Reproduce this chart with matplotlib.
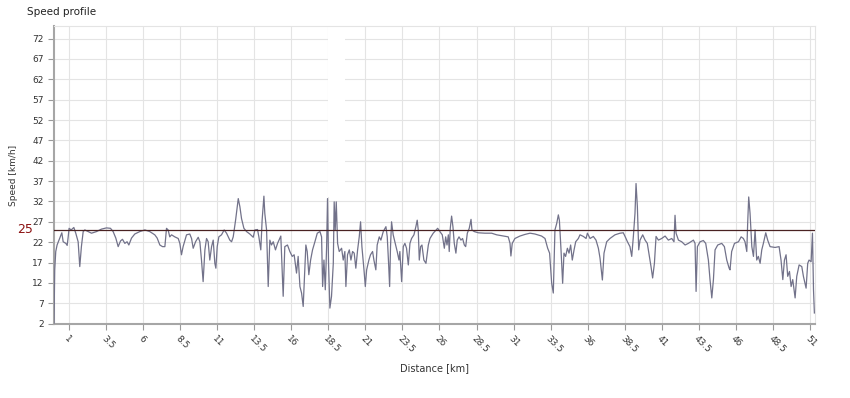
import numpy as np
import matplotlib
matplotlib.use("Agg")
import matplotlib.pyplot as plt
from matplotlib.ticker import FormatStrFormatter
from matplotlib.patches import Rectangle

# speed profile (distance km, speed km/h)
dist_km = [0.0, 0.05, 0.12, 0.21, 0.39, 0.53, 0.62, 0.80, 0.89, 0.95, 1.02, 1.16, 1.34, 1.47,
           1.63, 1.74, 1.85, 1.97, 2.08, 2.30, 2.53, 2.87, 3.20, 3.54, 3.81, 3.99, 4.17, 4.33,
           4.49, 4.62, 4.78, 4.93, 5.05, 5.23, 5.45, 5.79, 6.13, 6.46, 6.80, 6.96, 7.14, 7.32,
           7.48, 7.59, 7.70, 7.81, 7.93, 8.15,
           8.38, 8.49, 8.60, 8.71, 8.94, 9.16, 9.28, 9.39, 9.55, 9.73, 9.84, 9.95, 10.06, 10.18,
           10.29, 10.40, 10.51, 10.63, 10.74, 10.85, 10.92, 11.01, 11.12, 11.30, 11.48, 11.64,
           11.86, 11.98, 12.09, 12.25, 12.43, 12.54, 12.65, 12.81, 12.99, 13.21, 13.44, 13.55,
           13.73, 13.82, 13.95, 14.04, 14.16, 14.22, 14.34, 14.45, 14.56, 14.67, 14.79, 14.94,
           15.08, 15.30, 15.46, 15.57, 15.75, 15.91, 16.07, 16.20, 16.36, 16.47,
           16.59, 16.70, 16.81, 16.92, 16.99, 17.08, 17.19, 17.31, 17.44, 17.60, 17.76, 17.94,
           18.05, 18.12, 18.21, 18.30, 18.39, 18.45, 18.52, 18.61, 18.72, 18.84, 18.90, 18.97,
           19.04, 19.13, 19.24, 19.40, 19.51, 19.62, 19.69, 19.80, 19.92, 20.03, 20.14, 20.25,
           20.36, 20.48, 20.59, 20.68, 20.77, 20.91, 21.00, 21.09, 21.24, 21.35, 21.49, 21.58,
           21.71, 21.80, 21.94, 22.05, 22.21, 22.39, 22.48, 22.57, 22.64, 22.70, 22.77, 22.88,
           23.02, 23.15, 23.27, 23.33, 23.45, 23.56, 23.67, 23.78, 23.90, 24.01, 24.12, 24.28,
           24.41, 24.50, 24.57, 24.64, 24.73, 24.82, 24.95, 25.09,
           25.25, 25.36, 25.58, 25.88, 26.03, 26.19, 26.33, 26.42, 26.51, 26.60, 26.66, 26.73,
           26.82, 26.91, 27.00, 27.11, 27.20, 27.32, 27.45, 27.56, 27.68, 27.77, 27.88, 28.01,
           28.13, 28.19, 28.35, 28.62, 29.07, 29.52, 29.86, 30.31, 30.64, 30.76, 30.82, 30.91,
           31.09, 31.43, 31.77, 32.11, 32.44, 32.89, 33.12, 33.30, 33.43,
           33.57, 33.68, 33.79, 33.91, 34.02, 34.09, 34.20, 34.31, 34.40, 34.51, 34.63, 34.74,
           34.85, 34.96, 35.08, 35.19, 35.37, 35.48, 35.71, 35.89, 35.98, 36.16, 36.38, 36.56,
           36.72, 36.83, 36.99, 37.10, 37.28, 37.50, 37.84, 38.18, 38.40, 38.52, 38.68, 38.85,
           38.97, 39.08, 39.19, 39.26, 39.35, 39.44, 39.53, 39.71, 39.87, 40.02, 40.16, 40.27,
           40.38, 40.50, 40.61, 40.77, 40.99, 41.22, 41.44, 41.67, 41.82,
           41.89, 41.96, 42.12, 42.34, 42.57, 42.79, 43.13, 43.24, 43.31, 43.40, 43.58, 43.80,
           43.96, 44.14, 44.25, 44.37, 44.48, 44.59, 44.77, 45.04, 45.22, 45.38, 45.54, 45.60,
           45.71, 45.90, 46.17, 46.35, 46.50, 46.61, 46.73, 46.79, 46.86, 46.95, 47.07, 47.18,
           47.29, 47.40, 47.51, 47.63, 47.74, 47.85, 48.01, 48.14, 48.30, 48.64, 48.91, 49.04,
           49.16, 49.27, 49.38, 49.49, 49.61, 49.72, 49.83, 49.99, 50.10, 50.26, 50.44, 50.55,
           50.73, 50.84, 50.93, 51.07, 51.16, 51.23, 51.29]

speed_kmh = [2.1, 15.2, 19.7, 21.3, 23.0, 24.3, 22.1, 21.7, 21.2, 23.0, 25.4, 25.0, 25.6, 24.2,
             22.1, 16.0, 20.9, 24.6, 25.0, 24.6, 24.2, 24.6, 25.2, 25.5, 25.4, 24.6, 23.0, 20.9,
             22.3, 22.7, 21.7, 22.1, 21.3, 23.0, 24.0, 24.6, 25.0, 24.6, 23.8, 23.0, 21.3, 20.9,
             20.9, 25.4, 25.0, 23.3, 23.8, 23.3,
             22.9, 21.7, 18.9, 20.9, 23.8, 24.0, 22.9, 20.5, 22.1, 23.2, 22.1, 17.6, 12.3, 20.1,
             22.9, 22.1, 17.6, 20.9, 22.5, 16.8, 15.6, 20.9, 23.3, 23.8, 25.0, 24.2,
             22.5, 22.1, 23.3, 27.4, 32.7, 30.7, 27.8, 25.4, 24.6, 24.0, 23.2, 25.0,
             25.1, 23.3, 20.1, 27.4, 33.3, 29.1, 25.0, 11.1, 22.5, 21.3, 22.1, 20.1,
             21.7, 23.5, 8.7, 20.9, 21.3, 19.7, 18.5, 18.9, 14.4, 18.5,
             11.1, 9.5, 6.2, 15.2, 21.3, 19.7, 14.0, 17.6, 20.1, 22.1, 24.2, 24.6,
             23.3, 11.1, 17.6, 10.3, 20.9, 32.7, 16.8, 5.8, 8.7, 16.8, 31.9, 25.0,
             31.9, 21.7, 19.7, 20.5, 17.6, 19.7, 11.1, 18.9, 20.1, 17.6, 19.7, 19.3,
             15.6, 20.1, 23.3, 27.0, 20.9, 15.2, 11.1, 15.2, 17.6, 18.9, 19.7, 17.6,
             15.2, 21.3, 23.3, 22.5, 24.6, 25.8, 23.3, 16.8, 11.1, 20.9, 27.0, 23.8,
             21.7, 19.7, 17.6, 19.7, 12.3, 20.9, 21.7, 20.5, 16.4, 21.7, 22.9, 23.8,
             25.8, 27.4, 25.0, 17.6, 20.9, 21.3, 17.6, 16.8,
             21.3, 22.9, 24.2, 25.4, 24.6, 23.8, 20.5, 23.3, 21.3, 23.8, 19.7, 25.4,
             28.4, 25.8, 21.7, 19.3, 22.5, 23.3, 22.5, 22.9, 21.3, 20.9, 24.2, 25.4,
             27.6, 25.0, 24.6, 24.3, 24.2, 24.2, 23.8, 23.5, 23.3, 21.7, 18.6, 21.7,
             22.9, 23.5, 23.9, 24.2, 24.0, 23.5, 22.9, 20.5, 19.3,
             11.9, 9.5, 25.0, 26.6, 28.7, 27.4, 20.1, 11.9, 19.3, 18.5, 20.5, 19.3,
             21.3, 17.6, 20.1, 22.1, 22.9, 23.8, 23.4, 22.9, 24.2, 22.9, 23.4, 22.5,
             20.5, 18.1, 12.7, 19.3, 22.1, 22.9, 23.8, 24.2, 24.3, 23.4, 22.1, 20.9,
             18.5, 23.4, 29.1, 36.4, 30.7, 20.1, 22.5, 23.8, 22.5, 21.7, 18.5, 16.0,
             13.2, 16.8, 23.4, 22.5, 22.9, 23.5, 22.5, 22.9, 22.1,
             28.6, 24.2, 22.5, 22.1, 21.3, 21.7, 22.5, 21.7, 9.9, 20.9, 22.1, 22.4,
             21.7, 17.6, 12.8, 8.3, 12.8, 20.1, 21.3, 21.7, 20.9, 17.6, 15.6, 15.2,
             19.7, 21.7, 22.1, 23.3, 22.9, 22.1, 19.7, 26.6, 33.1, 29.1, 20.9, 18.5,
             25.0, 17.6, 18.5, 16.8, 20.1, 21.7, 24.3, 22.5, 20.9, 20.7, 20.9, 17.6,
             12.8, 17.6, 18.9, 13.6, 14.8, 11.1, 12.8, 8.3, 13.6, 16.4, 16.0, 13.6,
             10.7, 16.8, 17.6, 17.2, 24.2, 10.3, 4.6]

limit_kmh = 25
x_ticks = np.arange(1, 51.1, 2.5)
y_ticks = np.arange(2, 73, 5)

fig = plt.figure(figsize=(8.5, 3.98), dpi=100)
ax = fig.add_axes([0.0635, 0.186, 0.8953, 0.7487])

ax.grid(True, color='#e4e4e4', linewidth=0.8, zorder=0)
ax.set_axisbelow(True)

# white strip artefact in the reference around 18.5-19.6 km
ax.add_patch(Rectangle((18.45, 33), 1.15, 43, facecolor='white', edgecolor='none', zorder=1))

ax.plot(dist_km, speed_kmh, color='#72728a', linewidth=0.9, zorder=3)
ax.axhline(limit_kmh, color='#4a2222', linewidth=0.9, zorder=4)

ax.set_xlim(0, 51.33)
ax.set_ylim(1.9, 75.1)
ax.set_xticks(x_ticks)
ax.set_yticks(y_ticks)
ax.xaxis.set_major_formatter(FormatStrFormatter('%g'))

ax.tick_params(axis='both', labelsize=6.5, colors='#9a9a9a', labelcolor='#333333',
               length=4, width=0.8)
for lab in ax.get_xticklabels():
    lab.set_rotation(-45)
    lab.set_ha('left')
    lab.set_va('top')
    lab.set_rotation_mode('anchor')

for s in ['left', 'bottom']:
    ax.spines[s].set_color('#a6a6a6')
    ax.spines[s].set_linewidth(1.5)
for s in ['top', 'right']:
    ax.spines[s].set_color('#e4e4e4')
    ax.spines[s].set_linewidth(0.8)

ax.set_xlabel('Distance [km]', fontsize=7, color='#333333')
ax.xaxis.set_label_coords(0.5, -0.13)
ax.set_ylabel('Speed [km/h]', fontsize=6.5, color='#333333')
ax.yaxis.set_label_coords(-0.047, 0.5)

ax.text(-0.027, limit_kmh, '25', transform=ax.get_yaxis_transform(), color='#8b1010',
        fontsize=9, ha='right', va='center')

fig.text(27 / 850, 1 - 12 / 398, 'Speed profile', fontsize=7.5, color='#222222',
         ha='left', va='center')

fig.savefig('out.png', dpi=100)
